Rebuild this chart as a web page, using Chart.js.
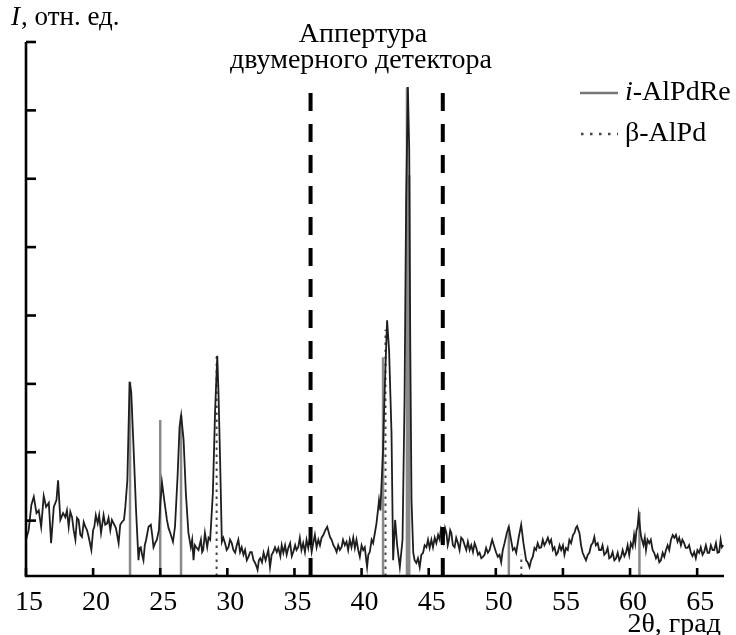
<!DOCTYPE html>
<html><head><meta charset="utf-8">
<script src="https://cdn.jsdelivr.net/npm/chart.js@4.4.1/dist/chart.umd.min.js"></script>
<style>html,body{margin:0;padding:0;background:#fff}#wrap{width:736px;height:635px;position:relative}</style>
</head><body><div id="wrap"><canvas id="c" width="736" height="635"></canvas></div>
<script>
// ---- data ----
const twoTheta = [15.0,15.2,15.4,15.58,15.78,15.95,16.13,16.32,16.5,16.7,16.87,17.07,17.27,17.39,17.56,17.76,17.93,18.05,18.18,18.3,18.43,18.55,18.68,18.8,18.92,19.05,19.17,19.3,19.42,19.55,19.67,19.87,20.0,20.09,20.2,20.34,20.45,20.59,20.78,20.9,21.04,21.15,21.28,21.4,21.53,21.7,21.9,22.02,22.15,22.3,22.4,22.55,22.72,22.84,23.0,23.2,23.38,23.47,23.55,23.65,23.75,23.85,23.95,24.13,24.3,24.4,24.5,24.62,24.75,24.9,25.0,25.13,25.3,25.5,25.62,25.75,25.95,26.1,26.29,26.44,26.56,26.74,26.91,27.1,27.28,27.38,27.48,27.58,27.68,27.85,28.03,28.12,28.2,28.33,28.5,28.6,28.72,28.92,29.09,29.25,29.34,29.46,29.59,29.7,29.83,29.95,30.08,30.2,30.33,30.45,30.58,30.7,30.82,30.95,31.07,31.2,31.32,31.45,31.57,31.7,31.82,31.95,32.07,32.19,32.25,32.35,32.45,32.58,32.7,32.85,33.05,33.18,33.3,33.42,33.55,33.68,33.8,33.95,34.05,34.17,34.3,34.42,34.54,34.68,34.8,34.91,35.05,35.15,35.28,35.4,35.52,35.65,35.78,35.9,36.03,36.15,36.28,36.4,36.52,36.65,36.78,36.9,37.02,37.15,37.3,37.44,37.55,37.65,37.77,37.9,38.02,38.14,38.26,38.38,38.51,38.62,38.75,38.88,39.0,39.12,39.25,39.38,39.5,39.62,39.75,39.87,40.0,40.12,40.24,40.35,40.41,40.5,40.61,40.75,40.86,41.0,41.11,41.22,41.3,41.4,41.5,41.6,41.7,41.78,41.9,42.05,42.23,42.35,42.5,42.65,42.85,43.05,43.2,43.32,43.45,43.55,43.63,43.72,43.85,43.95,44.08,44.2,44.33,44.45,44.58,44.7,44.83,44.95,45.07,45.2,45.32,45.45,45.57,45.7,45.82,45.92,46.02,46.12,46.22,46.32,46.42,46.51,46.6,46.69,46.8,46.93,47.05,47.18,47.3,47.42,47.55,47.68,47.8,47.92,48.05,48.17,48.3,48.42,48.55,48.67,48.79,48.92,49.04,49.16,49.28,49.41,49.54,49.66,49.73,49.9,50.03,50.15,50.28,50.4,50.52,50.65,50.82,50.97,51.1,51.27,51.4,51.52,51.71,51.89,52.06,52.26,52.38,52.51,52.63,52.75,52.88,53.0,53.12,53.25,53.38,53.5,53.62,53.75,53.88,54.0,54.12,54.25,54.37,54.5,54.61,54.75,54.87,55.0,55.11,55.23,55.36,55.48,55.61,55.75,55.86,55.96,56.06,56.15,56.23,56.35,56.47,56.6,56.72,56.85,56.97,57.1,57.22,57.34,57.45,57.59,57.7,57.84,57.95,58.08,58.21,58.33,58.45,58.58,58.7,58.83,58.96,59.08,59.2,59.33,59.45,59.58,59.7,59.82,59.94,60.06,60.19,60.3,60.39,60.48,60.56,60.64,60.72,60.8,60.89,61.0,61.1,61.19,61.3,61.43,61.55,61.68,61.8,61.93,62.05,62.18,62.3,62.43,62.55,62.68,62.8,62.92,63.05,63.18,63.3,63.42,63.54,63.66,63.79,63.9,64.03,64.15,64.28,64.4,64.53,64.65,64.78,64.9,65.02,65.15,65.27,65.4,65.52,65.65,65.78,65.9,66.02,66.15,66.27,66.4,66.52,66.64,66.75,66.84,66.95];
const intensity = [0.72,0.86,1.23,1.35,1.11,1.15,0.91,1.36,1.20,1.26,0.67,1.20,1.30,1.59,1.01,1.11,1.05,1.15,0.91,1.13,1.05,0.86,0.72,1.04,1.01,0.79,0.76,0.98,0.91,0.86,0.76,0.57,0.86,0.91,1.08,0.96,1.08,0.82,1.08,0.94,0.96,1.04,0.86,1.01,0.96,0.89,0.67,0.94,0.98,1.01,1.20,1.59,3.03,2.88,2.13,1.15,0.42,0.60,0.61,0.50,0.42,0.64,0.72,0.91,0.94,0.79,0.61,0.67,0.72,0.86,1.23,1.56,1.30,1.01,0.89,0.82,0.69,0.91,1.64,2.37,2.54,2.18,1.40,0.82,0.61,0.72,0.42,0.64,0.61,0.57,0.72,0.54,0.57,0.82,0.61,0.75,0.72,1.40,2.62,3.41,2.87,1.89,0.69,0.75,0.67,0.57,0.61,0.72,0.67,0.57,0.53,0.64,0.72,0.54,0.61,0.50,0.57,0.42,0.47,0.54,0.54,0.42,0.38,0.32,0.28,0.42,0.45,0.39,0.53,0.42,0.57,0.32,0.50,0.54,0.61,0.54,0.60,0.48,0.64,0.53,0.64,0.50,0.60,0.67,0.48,0.54,0.64,0.57,0.61,0.75,0.57,0.67,0.54,0.72,0.60,0.75,0.54,0.67,0.79,0.61,0.72,0.64,0.75,0.79,0.86,0.91,0.83,0.76,0.72,0.64,0.60,0.54,0.64,0.57,0.61,0.72,0.64,0.69,0.57,0.72,0.61,0.75,0.60,0.72,0.57,0.47,0.64,0.57,0.61,0.42,0.32,0.50,0.54,0.72,0.67,0.83,0.96,1.15,1.30,1.15,1.59,2.03,2.76,3.25,3.93,3.49,2.28,0.42,1.01,0.64,0.32,0.72,2.76,5.69,7.34,6.42,3.49,1.30,0.53,0.42,0.38,0.45,0.32,0.50,0.53,0.64,0.61,0.72,0.60,0.72,0.61,0.75,0.67,0.79,0.72,0.89,0.86,0.72,0.89,0.82,0.64,0.72,0.86,0.82,0.64,0.61,0.75,0.67,0.57,0.75,0.72,0.64,0.57,0.69,0.57,0.64,0.54,0.67,0.60,0.50,0.53,0.45,0.47,0.50,0.60,0.53,0.57,0.67,0.72,0.61,0.53,0.47,0.50,0.39,0.57,0.67,0.82,0.91,0.76,0.57,0.60,0.53,0.76,0.94,0.67,0.42,0.39,0.32,0.42,0.47,0.60,0.57,0.67,0.60,0.61,0.72,0.64,0.69,0.75,0.67,0.72,0.57,0.61,0.50,0.53,0.64,0.57,0.64,0.50,0.60,0.57,0.72,0.67,0.79,0.82,0.89,0.92,0.86,0.82,0.64,0.53,0.47,0.42,0.50,0.53,0.64,0.67,0.76,0.64,0.67,0.57,0.57,0.64,0.50,0.53,0.60,0.45,0.47,0.54,0.42,0.45,0.53,0.42,0.47,0.57,0.48,0.53,0.64,0.50,0.67,0.61,0.79,0.67,0.86,0.91,1.08,0.94,0.79,0.72,0.64,0.75,0.57,0.72,0.67,0.72,0.57,0.53,0.45,0.50,0.39,0.42,0.53,0.47,0.57,0.64,0.57,0.72,0.79,0.75,0.79,0.69,0.75,0.64,0.72,0.67,0.60,0.60,0.64,0.53,0.48,0.54,0.45,0.57,0.53,0.61,0.50,0.54,0.64,0.53,0.53,0.64,0.57,0.57,0.67,0.53,0.54,0.72,0.61,0.64];
const alPdReAngles = [22.75, 25.0, 26.55, 41.6, 43.38, 43.55, 50.97, 60.7];
const alPdReHeights = [3.03, 2.47, 2.54, 3.39, 7.34, 6.05, 0.91, 1.13];
const alPdAngles = [29.2, 41.78, 51.9];
const alPdHeights = [3.41, 3.79, 0.50];
const apertureAngles = [36.2, 46.05];
const apertureTop = 7.41;
const xTickValues = [15,20,25,30,35,40,45,50,55,60,65];
const yTickValues = [1,2,3,4,5,6,7,8];
const xMin = 15, xMax = 67, yMin = 0.19, yMax = 8;

// ---- build library datasets ----
const trace = twoTheta.map((t,i)=>({x:t, y:intensity[i]}));
function sticks(angles, heights){
  const out=[];
  angles.forEach((a,i)=>{ out.push({x:a,y:yMin},{x:a,y:heights[i]},{x:a,y:null}); });
  return out;
}
const aperture = [];
apertureAngles.forEach(a=>aperture.push({x:a,y:yMin},{x:a,y:apertureTop},{x:a,y:null}));

const SERIF = '"Liberation Serif", "DejaVu Serif", serif';

const deco = {
  id:'deco',
  afterDatasetsDraw(chart){
    const {ctx, chartArea:a, scales:{x,y}} = chart;
    ctx.save();
    ctx.strokeStyle='#000'; ctx.lineWidth=2.6; ctx.lineCap='butt';
    ctx.beginPath(); ctx.moveTo(a.left, y.getPixelForValue(yMax)); ctx.lineTo(a.left, a.bottom); ctx.lineTo(a.right, a.bottom); ctx.stroke();
    yTickValues.forEach(v=>{const py=y.getPixelForValue(v); ctx.beginPath(); ctx.moveTo(a.left,py); ctx.lineTo(a.left+10,py); ctx.stroke();});
    xTickValues.forEach(v=>{const px=x.getPixelForValue(v); ctx.beginPath(); ctx.moveTo(px,a.bottom); ctx.lineTo(px,a.bottom-8); ctx.stroke();});
    ctx.fillStyle='#000';
    ctx.font='28px '+SERIF; ctx.textAlign='center'; ctx.textBaseline='alphabetic';
    xTickValues.forEach(v=>ctx.fillText(String(v), x.getPixelForValue(v)+3, 610));
    // x axis title
    ctx.textAlign='right';
    ctx.font='28px '+SERIF;
    ctx.fillText('2θ, град', 721, 632);
    // y axis title
    ctx.textAlign='left';
    ctx.font='italic 27px '+SERIF; ctx.fillText('I', 11, 25);
    const wI = ctx.measureText('I').width;
    ctx.font='27px '+SERIF; ctx.fillText(', отн. ед.', 11+wI+1, 25);
    // aperture annotation
    ctx.textAlign='center';
    ctx.font='28px '+SERIF;
    ctx.fillText('Аппертура', 363, 42);
    ctx.fillText('двумерного детектора', 361, 68);
    // legend
    const lx0=580, lx1=618, tx=625, l1=93, l2=134;
    ctx.strokeStyle='#777'; ctx.lineWidth=2.4;
    ctx.beginPath(); ctx.moveTo(lx0,l1); ctx.lineTo(lx1,l1); ctx.stroke();
    ctx.strokeStyle='#444'; ctx.setLineDash([2.5,6.5]);
    ctx.beginPath(); ctx.moveTo(lx0+1,l2); ctx.lineTo(lx1,l2); ctx.stroke();
    ctx.setLineDash([]);
    ctx.textBaseline='middle'; ctx.textAlign='left';
    ctx.font='italic 28px '+SERIF; ctx.fillText('i', tx, l1);
    const wi = ctx.measureText('i').width;
    ctx.font='28px '+SERIF; ctx.fillText('-AlPdRe', tx+wi, l1);
    ctx.fillText('β-AlPd', tx, l2);
    ctx.restore();
  }
};

new Chart(document.getElementById('c'), {
  type:'line',
  data:{datasets:[
    {label:'aperture', data:aperture, borderColor:'#000', borderWidth:4, borderDash:[18,13], pointRadius:0, spanGaps:false, order:0, borderCapStyle:'butt'},
    {label:'pattern', data:trace, borderColor:'#1e1e1e', borderWidth:1.8, pointRadius:0, tension:0, order:1},
    {label:'i-AlPdRe', data:sticks(alPdReAngles, alPdReHeights), borderColor:'#8a8a8a', borderWidth:2.5, pointRadius:0, spanGaps:false, order:2},
    {label:'β-AlPd', data:sticks(alPdAngles, alPdHeights), borderColor:'#444', borderWidth:2, borderDash:[2.5,4.5], pointRadius:0, spanGaps:false, order:3}
  ]},
  options:{
    responsive:false, animation:false, devicePixelRatio:1,
    layout:{padding:{left:26, right:12, top:42, bottom:59}},
    plugins:{legend:{display:false}, tooltip:{enabled:false}},
    scales:{
      x:{type:'linear', min:xMin, max:xMax, display:false},
      y:{type:'linear', min:yMin, max:yMax, display:false}
    }
  },
  plugins:[deco]
});
</script>
</body></html>
